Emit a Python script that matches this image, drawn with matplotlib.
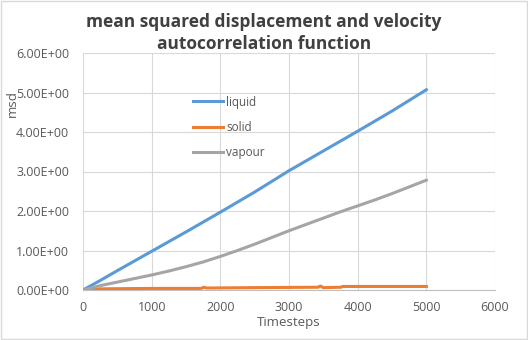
import matplotlib
matplotlib.use("Agg")
import matplotlib.pyplot as plt
from matplotlib.patches import Rectangle

liquid_x = [0, 250, 500, 1000, 1500, 2000, 2500, 3000, 3500, 4000, 4500, 5000]
liquid_y = [0, 0.24, 0.49, 0.98, 1.47, 1.97, 2.48, 3.02, 3.52, 4.02, 4.53, 5.07]

vapour_x = [0, 250, 500, 750, 1000, 1250, 1500, 1750, 2000, 2250, 2500, 2750, 3000,
            3250, 3500, 3750, 4000, 4250, 4500, 4750, 5000]
vapour_y = [0, 0.11, 0.20, 0.29, 0.38, 0.48, 0.59, 0.71, 0.85, 1.00, 1.16, 1.33, 1.50,
            1.66, 1.82, 1.98, 2.13, 2.28, 2.44, 2.61, 2.78]

solid_x = [0, 200, 260, 300, 1000, 1720, 1760, 1800, 2500, 3420, 3460, 3500, 3760, 3780, 4500, 5000]
solid_y = [0, 0.02, 0.03, 0.03, 0.04, 0.04, 0.07, 0.05, 0.06, 0.07, 0.10, 0.06, 0.07, 0.09, 0.09, 0.09]

xticks = [0, 1000, 2000, 3000, 4000, 5000, 6000]
yticks = [0, 1, 2, 3, 4, 5, 6]

plt.rcParams['font.family'] = ['Open Sans', 'DejaVu Sans']

fig = plt.figure(figsize=(5.28, 3.4), dpi=100)
ax = fig.add_axes([83/528, 1 - 290/340, (495-83)/528, (290-53)/340])

ax.plot(liquid_x, liquid_y, color='#5B9BD5', lw=2.2, label='liquid')
ax.plot(solid_x, solid_y, color='#ED7D31', lw=2.2, label='solid')
ax.plot(vapour_x, vapour_y, color='#A5A5A5', lw=2.2, label='vapour')

ax.set_xlim(0, 6000)
ax.set_ylim(0, 6)
ax.set_xticks(xticks)
ax.set_yticks(yticks)
ax.set_yticklabels(['%.2fE+00' % v for v in yticks])
ax.tick_params(axis='both', length=0, labelsize=9, colors='#595959')
ax.tick_params(axis='x', pad=8)
ax.tick_params(axis='y', pad=10)
ax.grid(True, color='#D9D9D9', lw=0.8)
ax.set_axisbelow(True)
for s in ['top', 'right', 'left']:
    ax.spines[s].set_visible(False)
ax.spines['bottom'].set_color('#BFBFBF')

ax.set_xlabel('Timesteps', fontsize=9.5, color='#595959')
ax.xaxis.set_label_coords(0.5, -26/237, transform=ax.transAxes)
ax.set_ylabel('msd', fontsize=9.5, color='#595959')
ax.yaxis.set_label_coords(-64/412, (290-104)/237, transform=ax.transAxes)

fig.text(0.5, 1 - 33/340, 'mean squared displacement and velocity\nautocorrelation function',
         ha='center', va='center', fontsize=12.5, fontweight='bold', color='#404040', linespacing=1.3)

leg = ax.legend(loc='upper left', bbox_to_anchor=(0.24, 0.865), frameon=False,
                fontsize=8.5, handlelength=2.6, handletextpad=0.25, labelspacing=1.05,
                labelcolor='#595959')

fig.patches.append(Rectangle((0.002, 0.003), 0.996, 0.994, transform=fig.transFigure,
                             fill=False, edgecolor='#D9D9D9', lw=1))

fig.savefig('out.png', dpi=100)
